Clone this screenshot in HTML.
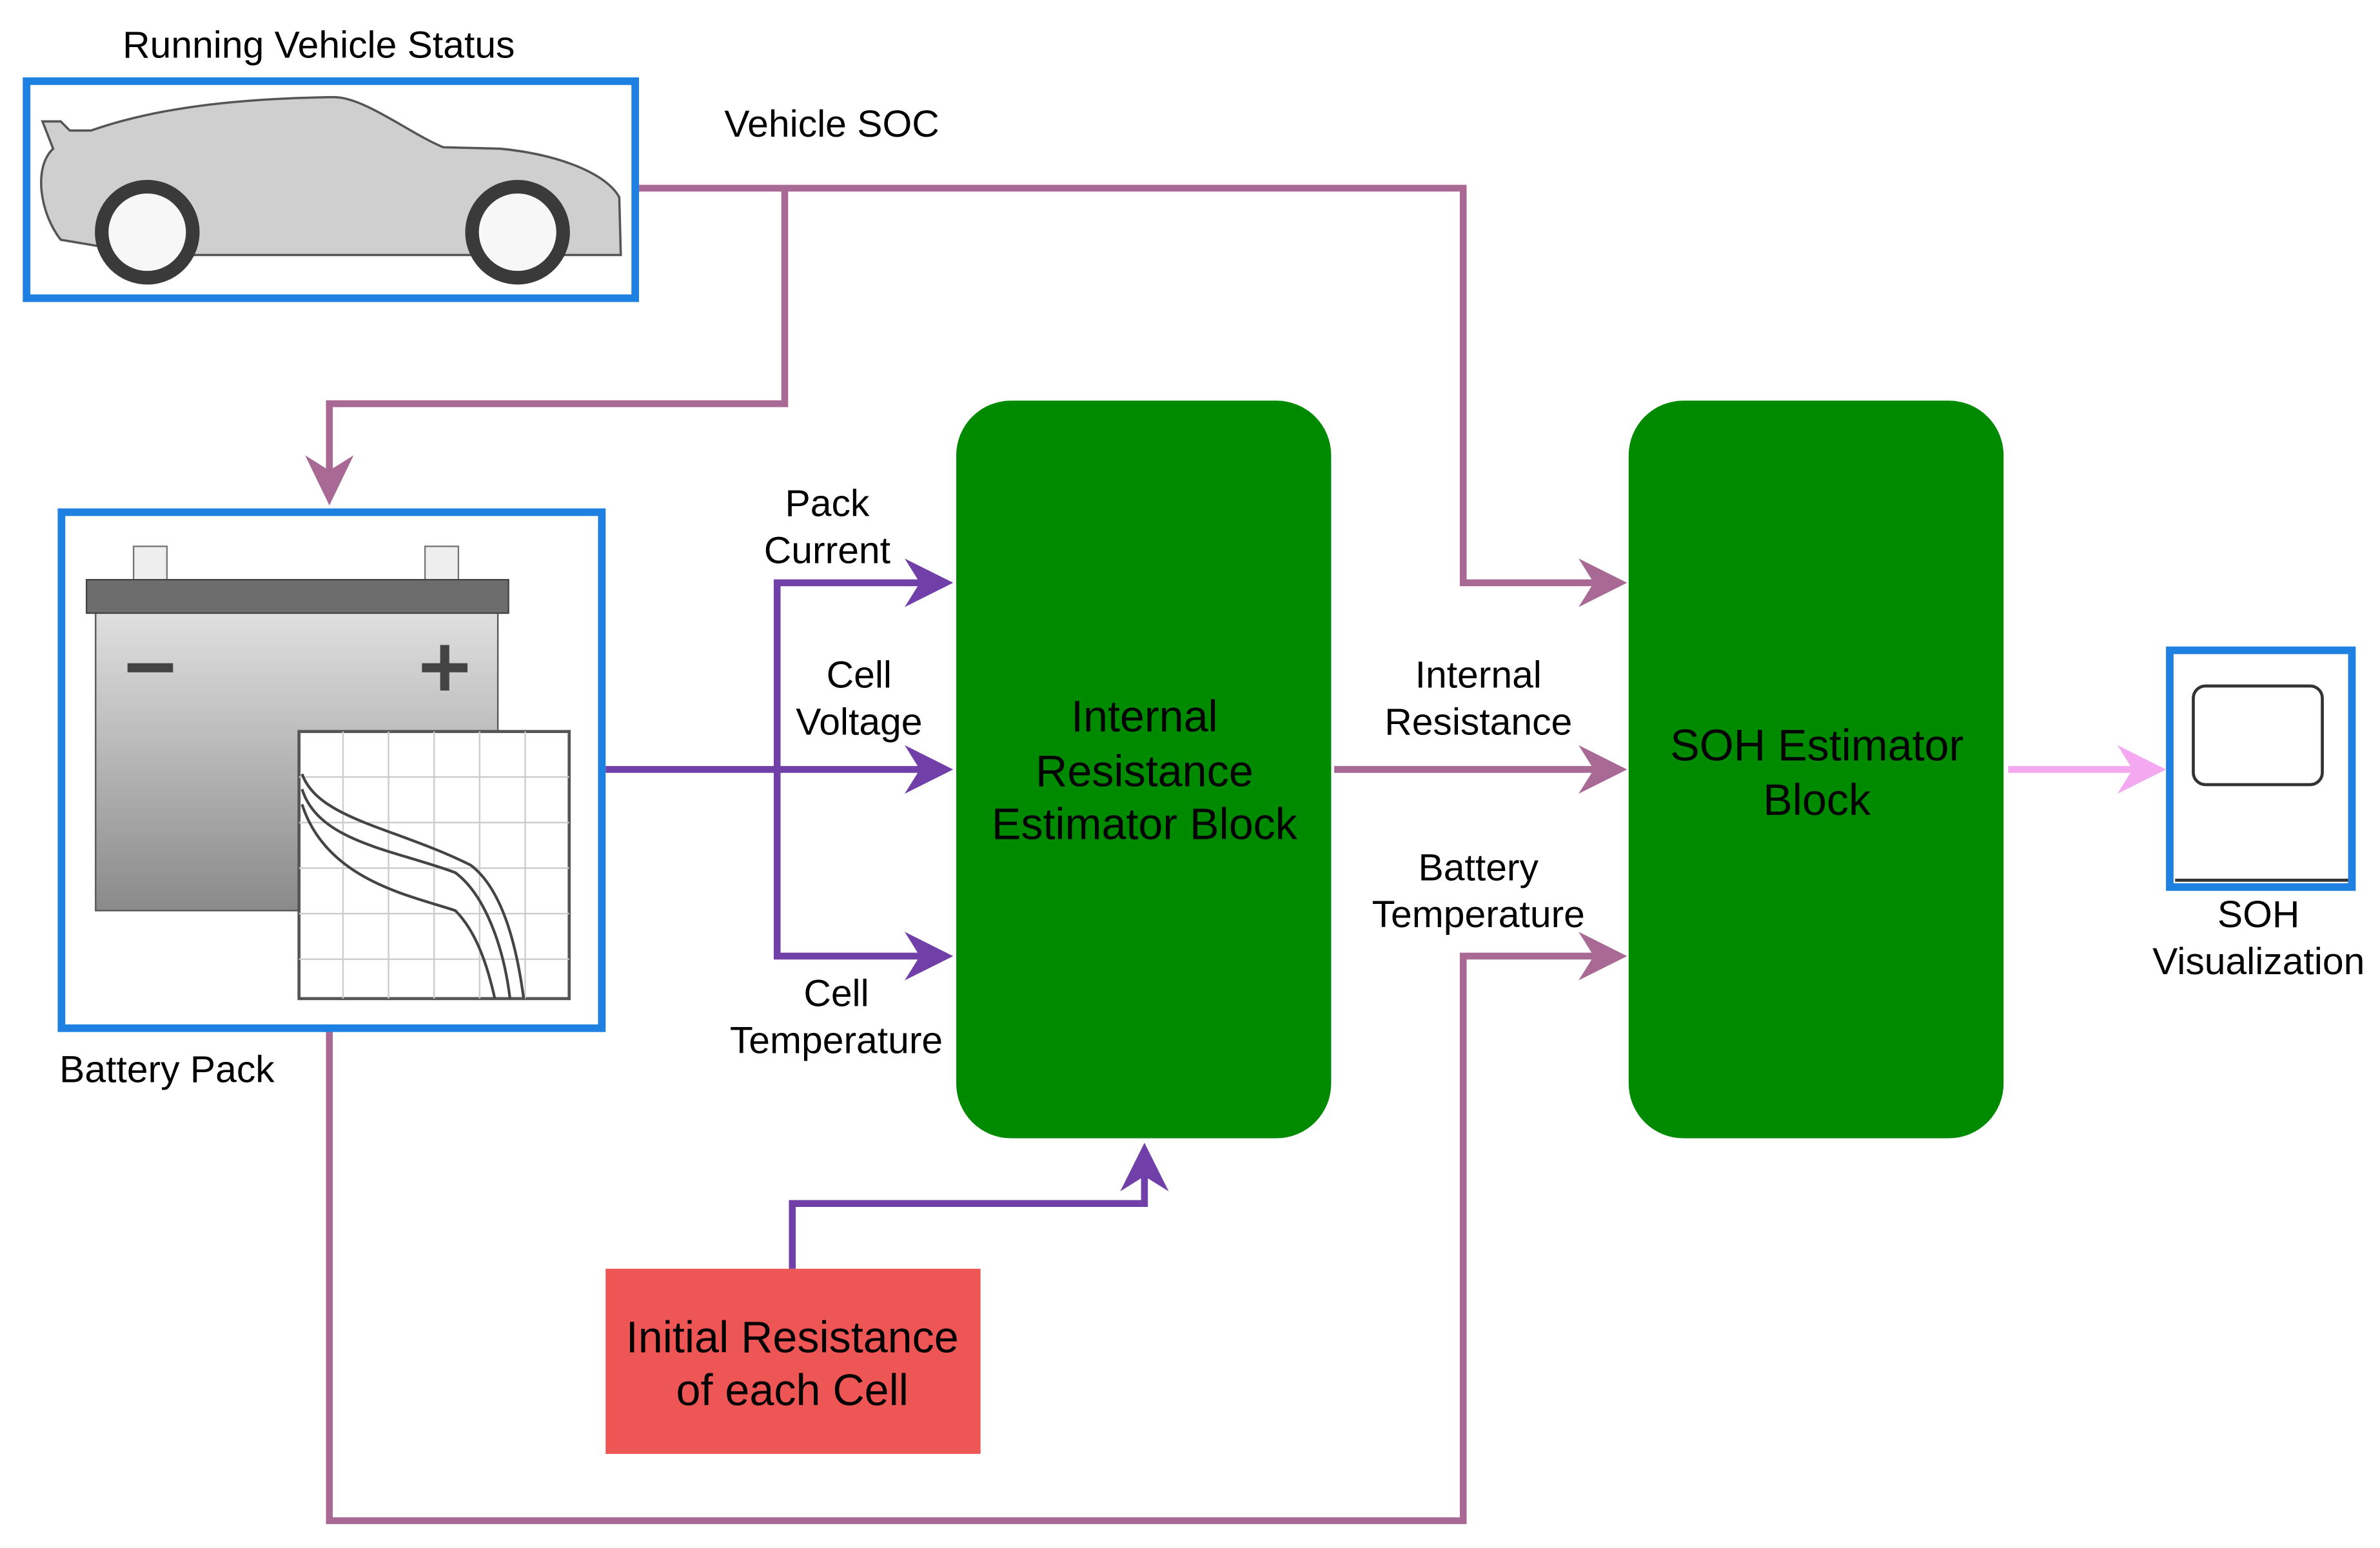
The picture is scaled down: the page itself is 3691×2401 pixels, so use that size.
<!DOCTYPE html>
<html><head><style>html,body{margin:0;padding:0;background:#fff}svg{display:block}</style></head>
<body>
<svg width="3691" height="2401" viewBox="0 0 1568 1020" preserveAspectRatio="none" xmlns="http://www.w3.org/2000/svg" font-family="Liberation Sans, Arial, sans-serif">
<defs>
<linearGradient id="bg" x1="0" y1="0" x2="0" y2="1"><stop offset="0" stop-color="#e0e0e0"/><stop offset="1" stop-color="#8a8a8a"/></linearGradient>
</defs>
<rect width="1568" height="1020" fill="#fff"/>
<g fill="none" stroke="#a86a95" stroke-width="4.5">
<polyline points="421,124 964,124 964,384 1055,384"/>
<polyline points="517,124 517,266 217,266 217,320"/>
<polyline points="879,507 1055,507"/>
<polyline points="217,679 217,1002 964,1002 964,630 1055,630"/>
</g>
<g fill="#a86a95">
<polygon points="1072,384 1040,368 1050,384 1040,400"/>
<polygon points="1072,507 1040,491 1050,507 1040,523"/>
<polygon points="1072,630 1040,614 1050,630 1040,646"/>
<polygon points="217,333 201,300 217,310 233,300"/>
</g>
<g fill="none" stroke="#7040a8" stroke-width="4.5">
<polyline points="399,507 612,507"/>
<polyline points="612,384 512,384 512,630 612,630"/>
<polyline points="522,836 522,793 754,793 754,770"/>
</g>
<g fill="#7040a8">
<polygon points="628,384 596,368 606,384 596,400"/>
<polygon points="628,507 596,491 606,507 596,523"/>
<polygon points="628,630 596,614 606,630 596,646"/>
<polygon points="754,753 738,785 754,775 770,785"/>
</g>
<line x1="1323" y1="507" x2="1410" y2="507" stroke="#f4a8f0" stroke-width="4.5"/>
<polygon points="1427,507 1395,491 1405,507 1395,523" fill="#f4a8f0"/>
<rect x="17.5" y="53.5" width="401" height="143" fill="#fff" stroke="#1e80e0" stroke-width="5"/>
<path d="M28,80 L40,80 L46,86 L60,86 C100,72 150,65 220,64 C240,64 270,88 292,97 L330,98 C370,102 400,115 408,130 L409,168 L100,168 L40,158 C26,140 22,110 35,98 Z" fill="#cfcfcf" stroke="#555" stroke-width="1.5"/>
<circle cx="97" cy="153" r="30" fill="#f7f7f7" stroke="#3a3a3a" stroke-width="9"/>
<circle cx="341" cy="153" r="30" fill="#f7f7f7" stroke="#3a3a3a" stroke-width="9"/>
<rect x="40.5" y="337.5" width="356" height="340" fill="#fff" stroke="#1e80e0" stroke-width="5"/>
<rect x="88" y="360" width="22" height="22" fill="#eee" stroke="#777"/>
<rect x="280" y="360" width="22" height="22" fill="#eee" stroke="#777"/>
<rect x="63" y="403" width="265" height="197" fill="url(#bg)" stroke="#555"/>
<rect x="57" y="382" width="278" height="22" fill="#6d6d6d" stroke="#444"/>
<rect x="84" y="437" width="30" height="6" fill="#444"/>
<rect x="278" y="437" width="30" height="6" fill="#444"/><rect x="290" y="425" width="6" height="30" fill="#444"/>
<rect x="197" y="482" width="178" height="176" fill="#fff" stroke="#555" stroke-width="2"/>
<g stroke="#ccc" stroke-width="1">
<line x1="226" y1="482" x2="226" y2="658"/><line x1="256" y1="482" x2="256" y2="658"/><line x1="286" y1="482" x2="286" y2="658"/><line x1="316" y1="482" x2="316" y2="658"/><line x1="346" y1="482" x2="346" y2="658"/>
<line x1="197" y1="512" x2="375" y2="512"/><line x1="197" y1="542" x2="375" y2="542"/><line x1="197" y1="572" x2="375" y2="572"/><line x1="197" y1="602" x2="375" y2="602"/><line x1="197" y1="632" x2="375" y2="632"/>
</g>
<g fill="none" stroke="#444" stroke-width="1.8">
<path d="M199,510 C210,540 260,545 310,570 C330,585 340,620 345,658"/>
<path d="M199,520 C210,555 260,560 300,575 C320,590 332,625 336,658"/>
<path d="M199,530 C215,580 270,590 300,600 C315,615 322,640 326,658"/>
</g>
<rect x="630" y="264" width="247" height="486" rx="36" fill="#008a00"/>
<rect x="1073" y="264" width="247" height="486" rx="36" fill="#008a00"/>
<rect x="399" y="836" width="247" height="122" fill="#ee5555"/>
<rect x="1429.5" y="428.5" width="120" height="156" fill="#fff" stroke="#1e80e0" stroke-width="5"/>
<line x1="1433" y1="580" x2="1547" y2="580" stroke="#333" stroke-width="2"/>
<rect x="1445" y="452" width="85" height="65" rx="8" fill="#fff" stroke="#333" stroke-width="2"/>
<g fill="#000" font-size="25" text-anchor="middle">
<text x="210" y="38">Running Vehicle Status</text>
<text x="548" y="90">Vehicle SOC</text>
<text x="545" y="340">Pack</text><text x="545" y="371">Current</text>
<text x="566" y="453">Cell</text><text x="566" y="484">Voltage</text>
<text x="551" y="663">Cell</text><text x="551" y="694">Temperature</text>
<text x="974" y="453">Internal</text><text x="974" y="484">Resistance</text>
<text x="974" y="580">Battery</text><text x="974" y="611">Temperature</text>
<text x="1488" y="611">SOH</text><text x="1488" y="642">Visualization</text>
<text x="110" y="713">Battery Pack</text>
</g>
<g fill="#000" font-size="29" text-anchor="middle">
<text x="754" y="482">Internal</text><text x="754" y="518">Resistance</text><text x="754" y="553">Estimator Block</text>
<text x="1197" y="501">SOH Estimator</text><text x="1197" y="537">Block</text>
<text x="522" y="891">Initial Resistance</text><text x="522" y="926">of each Cell</text>
</g>
</svg>
</body></html>
